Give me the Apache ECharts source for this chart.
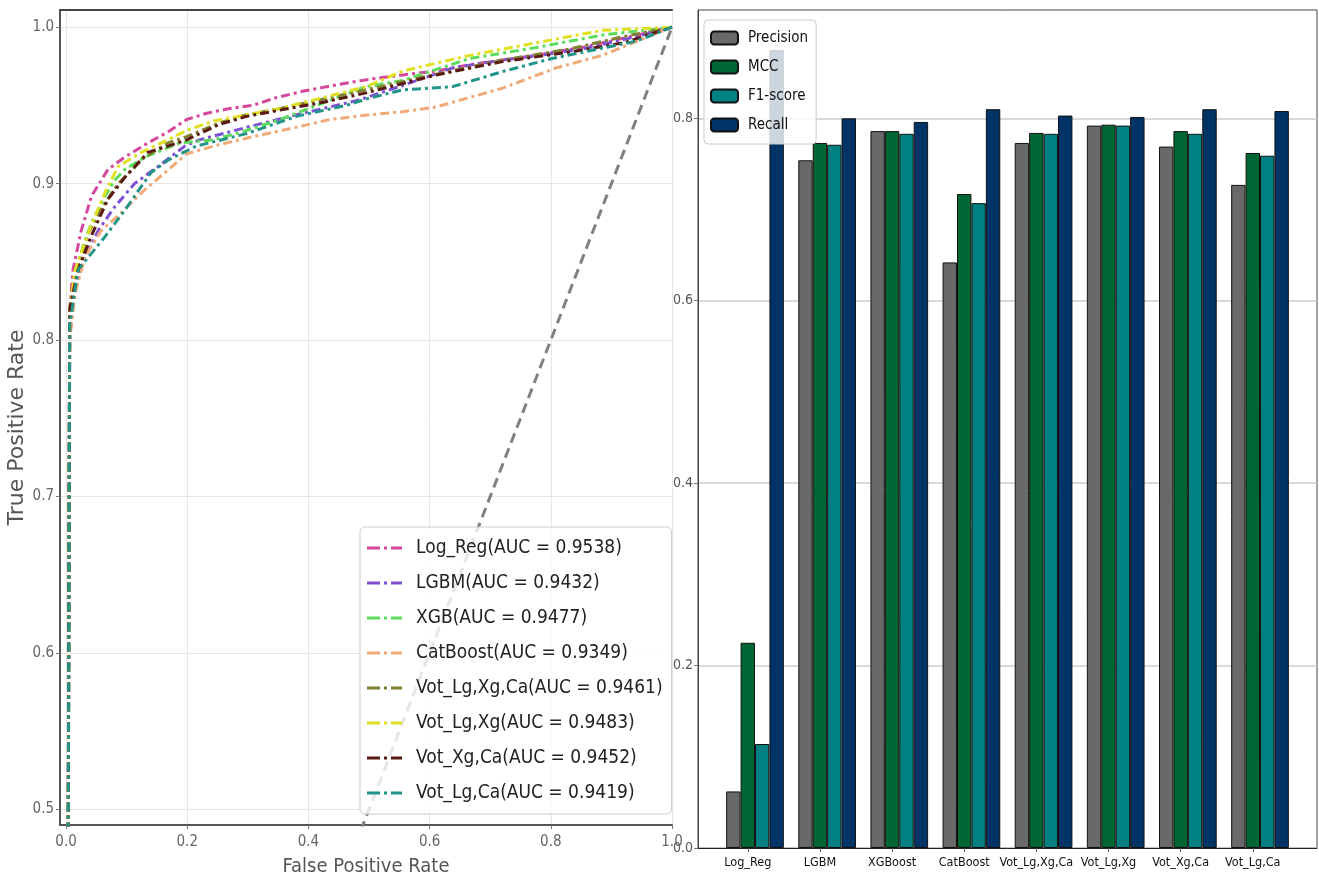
<!DOCTYPE html>
<html>
<head>
<meta charset="utf-8">
<script src="https://cdn.jsdelivr.net/npm/echarts@6/dist/echarts.min.js"></script>
<style>
  html, body { margin: 0; padding: 0; background: #fff; }
  #main { width: 1319px; height: 883px; }
</style>
</head>
<body>
<div id="main"></div>
<script>
// ---- ROC curves (FPR, TPR) ----
const logRegRoc = [[0,0],[0.006,0.82],[0.0115,0.845],[0.025,0.870],[0.042,0.892],[0.069,0.909],[0.097,0.917],[0.135,0.926],[0.168,0.933],[0.199,0.941],[0.232,0.945],[0.27,0.948],[0.308,0.950],[0.347,0.955],[0.39,0.959],[0.43,0.962],[0.473,0.965],[0.506,0.967],[0.556,0.9695],[0.611,0.972],[0.666,0.976],[0.72,0.979],[0.776,0.982],[0.858,0.9876],[0.92,0.993],[1,1]];
const lgbmRoc = [[0,0],[0.006,0.80],[0.012,0.83],[0.03,0.852],[0.053,0.870],[0.08,0.885],[0.113,0.90],[0.152,0.911],[0.196,0.924],[0.22,0.928],[0.298,0.936],[0.38,0.944],[0.479,0.953],[0.55,0.962],[0.638,0.974],[0.72,0.979],[0.8,0.983],[0.858,0.9866],[0.93,0.993],[1,1]];
const xgbRoc = [[0,0],[0.006,0.81],[0.015,0.84],[0.028,0.86],[0.042,0.875],[0.064,0.892],[0.08,0.902],[0.097,0.909],[0.13,0.917],[0.188,0.926],[0.243,0.928],[0.298,0.934],[0.353,0.941],[0.407,0.949],[0.495,0.962],[0.556,0.966],[0.666,0.980],[0.776,0.987],[0.885,0.995],[1,1]];
const catBoostRoc = [[0,0],[0.006,0.80],[0.015,0.83],[0.031,0.853],[0.058,0.870],[0.09,0.881],[0.124,0.894],[0.163,0.907],[0.199,0.919],[0.243,0.924],[0.308,0.93],[0.38,0.936],[0.435,0.941],[0.50,0.944],[0.556,0.946],[0.611,0.949],[0.638,0.952],[0.72,0.961],[0.765,0.9676],[0.809,0.974],[0.885,0.982],[0.967,0.995],[1,1]];
const votLgXgCaRoc = [[0,0],[0.006,0.82],[0.015,0.84],[0.036,0.868],[0.06,0.885],[0.086,0.90],[0.13,0.917],[0.168,0.926],[0.199,0.930],[0.254,0.939],[0.298,0.944],[0.353,0.948],[0.424,0.954],[0.495,0.96],[0.611,0.970],[0.72,0.979],[0.83,0.986],[0.92,0.994],[1,1]];
const votLgXgRoc = [[0,0],[0.006,0.82],[0.015,0.845],[0.04,0.872],[0.065,0.895],[0.086,0.911],[0.124,0.920],[0.168,0.928],[0.199,0.934],[0.243,0.940],[0.298,0.944],[0.353,0.948],[0.424,0.955],[0.495,0.962],[0.556,0.972],[0.666,0.982],[0.776,0.99],[0.885,0.998],[1,1]];
const votXgCaRoc = [[0,0],[0.006,0.82],[0.02,0.845],[0.041,0.866],[0.069,0.89],[0.097,0.904],[0.135,0.92],[0.168,0.924],[0.199,0.928],[0.254,0.938],[0.298,0.943],[0.353,0.947],[0.424,0.952],[0.495,0.958],[0.611,0.9695],[0.72,0.978],[0.83,0.984],[0.92,0.99],[1,1]];
const votLgCaRoc = [[0,0],[0.006,0.81],[0.02,0.845],[0.064,0.866],[0.097,0.883],[0.14,0.907],[0.168,0.915],[0.215,0.924],[0.298,0.932],[0.38,0.943],[0.462,0.950],[0.50,0.9546],[0.556,0.96],[0.638,0.962],[0.72,0.9716],[0.802,0.980],[0.94,0.991],[1,1]];
const chanceLine = [[0,0],[1,1]];

const rocNames = ['Log_Reg(AUC = 0.9538)','LGBM(AUC = 0.9432)','XGB(AUC = 0.9477)','CatBoost(AUC = 0.9349)',
  'Vot_Lg,Xg,Ca(AUC = 0.9461)','Vot_Lg,Xg(AUC = 0.9483)','Vot_Xg,Ca(AUC = 0.9452)','Vot_Lg,Ca(AUC = 0.9419)'];
const rocColors = ['#d4479c','#7e50d6','#5cdc5c','#f0aa78','#808033','#e0e020','#5a1a12','#229488'];
const rocCurves = [logRegRoc, lgbmRoc, xgbRoc, catBoostRoc, votLgXgCaRoc, votLgXgRoc, votXgCaRoc, votLgCaRoc];

const fprTicks = [0, 0.2, 0.4, 0.6, 0.8, 1.0];
const tprTicks = [0.5, 0.6, 0.7, 0.8, 0.9, 1.0];

// ---- metric bars ----
const models = ['Log_Reg','LGBM','XGBoost','CatBoost','Vot_Lg,Xg,Ca','Vot_Lg,Xg','Vot_Xg,Ca','Vot_Lg,Ca'];
const precision = [0.062, 0.754, 0.786, 0.642, 0.773, 0.792, 0.769, 0.727];
const mcc       = [0.225, 0.773, 0.786, 0.717, 0.784, 0.793, 0.786, 0.762];
const f1score   = [0.114, 0.771, 0.783, 0.707, 0.783, 0.792, 0.783, 0.759];
const recall    = [0.875, 0.800, 0.796, 0.810, 0.803, 0.8015, 0.810, 0.808];
const scoreTicks = [0, 0.2, 0.4, 0.6, 0.8];

const metricNames = ['Precision','MCC','F1-score','Recall'];
const metricColors = ['#696969','#006633','#008080','#003366'];
const metricValues = [precision, mcc, f1score, recall];
const barOffsets = [-0.2, 0, 0.2, 0.4];   // bar centres relative to tick (width 0.2)

// dash-dot sample for the ROC legend
const dashDotIcon = 'path://M0,0h13v3h-13z M17,0h3v3h-3z M24,0h11v3h-11z';

// condensed DejaVu: the weight slot carries a font-stretch keyword into the canvas font string
const cond = (size, color) => ({
  fontFamily: 'DejaVu Sans', fontStyle: 'normal', fontWeight: 'condensed', fontSize: size, color: color
});

const chart = echarts.init(document.getElementById('main'));

const rocSeries = rocCurves.map((d, i) => ({
  name: rocNames[i],
  type: 'line',
  xAxisIndex: 0,
  yAxisIndex: 0,
  data: d,
  symbol: 'none',
  clip: true,
  color: rocColors[i],
  lineStyle: { width: 3, type: [9, 4, 3, 4], color: rocColors[i] },
  z: 3
}));

const barSeries = metricValues.map((vals, k) => ({
  name: metricNames[k],
  type: 'bar',
  xAxisIndex: 2,
  yAxisIndex: 1,
  data: vals.map((v, i) => [i + barOffsets[k], v]),
  barWidth: 14.4,
  barGap: '-100%',
  color: metricColors[k],
  itemStyle: { color: metricColors[k], borderColor: '#111', borderWidth: 1 }
}));

chart.setOption({
  animation: false,
  backgroundColor: '#fff',
  grid: [
    { left: 60, top: 10, width: 612, height: 815 },
    { left: 698, top: 10, width: 619, height: 838, show: true, borderColor: '#444', borderWidth: 1 }
  ],
  legend: [
    {
      data: rocNames.map(n => ({ name: n, icon: dashDotIcon })),
      orient: 'vertical',
      left: 360, top: 527,
      padding: [10, 9, 10, 7],
      itemWidth: 35, itemHeight: 3, itemGap: 13,
      symbolKeepAspect: false,
      backgroundColor: 'rgba(255,255,255,0.8)',
      borderColor: '#cccccc', borderWidth: 1, borderRadius: 5,
      textStyle: Object.assign(cond(19, '#222'), { lineHeight: 22, padding: [0, 0, 0, 9] })
    },
    {
      data: metricNames,
      orient: 'vertical',
      left: 704, top: 20,
      padding: [9, 8, 10, 6],
      itemWidth: 27, itemHeight: 13, itemGap: 11,
      backgroundColor: 'rgba(255,255,255,0.8)',
      borderColor: '#cccccc', borderWidth: 1, borderRadius: 4,
      textStyle: Object.assign(cond(15, '#111'), { lineHeight: 18, padding: [0, 0, 0, 5] })
    }
  ],
  xAxis: [
    {
      gridIndex: 0, type: 'value', min: -0.01, max: 1.0,
      name: 'False Positive Rate', nameLocation: 'middle', nameGap: 32,
      nameTextStyle: cond(20, '#555'),
      axisLine: { show: true, onZero: false, lineStyle: { color: '#555', width: 2 } },
      axisTick: { show: true, length: 4, customValues: fprTicks, lineStyle: { color: '#777' } },
      axisLabel: Object.assign(cond(15, '#666'), { customValues: fprTicks, margin: 10,
        formatter: v => v.toFixed(1) }),
      splitLine: { show: true, lineStyle: { color: '#e6e6e6', width: 1 } }
    },
    {
      gridIndex: 0, type: 'value', position: 'top', min: -0.01, max: 1.0,
      axisLine: { show: true, onZero: false, lineStyle: { color: '#444', width: 2 } },
      axisTick: { show: false }, axisLabel: { show: false }, splitLine: { show: false }
    },
    {
      gridIndex: 1, type: 'value', min: -0.69, max: 7.89,
      axisLine: { show: true, onZero: false, lineStyle: { color: '#222', width: 1 } },
      axisTick: { show: true, length: 4, customValues: models.map((m, i) => i), lineStyle: { color: '#555' } },
      axisLabel: Object.assign(cond(12.5, '#111'), { customValues: models.map((m, i) => i), margin: 8,
        formatter: v => models[Math.round(v)] }),
      splitLine: { show: false }
    }
  ],
  yAxis: [
    {
      gridIndex: 0, type: 'value', min: 0.49, max: 1.011,
      name: 'True Positive Rate', nameLocation: 'middle', nameGap: 31,
      nameTextStyle: Object.assign(cond(22, '#555'), { fontWeight: 'normal', padding: [0, 20, 0, 0] }),
      axisLine: { show: true, onZero: false, lineStyle: { color: '#555', width: 2 } },
      axisTick: { show: true, length: 4, customValues: tprTicks, lineStyle: { color: '#777' } },
      axisLabel: Object.assign(cond(15, '#666'), { customValues: tprTicks, margin: 6,
        formatter: v => v.toFixed(1) }),
      splitLine: { show: true, lineStyle: { color: '#e6e6e6', width: 1 } }
    },
    {
      gridIndex: 1, type: 'value', min: 0, max: 0.91875,
      axisLine: { show: true, onZero: false, lineStyle: { color: '#444', width: 1 } },
      axisTick: { show: true, length: 4, customValues: scoreTicks, lineStyle: { color: '#777' } },
      axisLabel: Object.assign(cond(14, '#555'), { customValues: scoreTicks, margin: 5,
        formatter: v => v.toFixed(1) }),
      splitLine: { show: true, lineStyle: { color: '#cccccc', width: 1.5 } }
    }
  ],
  series: [
    {
      name: 'chance',
      type: 'line',
      xAxisIndex: 0, yAxisIndex: 0,
      data: chanceLine,
      symbol: 'none',
      lineStyle: { color: '#808080', width: 3, type: [10, 6] },
      z: 2
    },
    ...rocSeries,
    ...barSeries
  ]
});
</script>
</body>
</html>
